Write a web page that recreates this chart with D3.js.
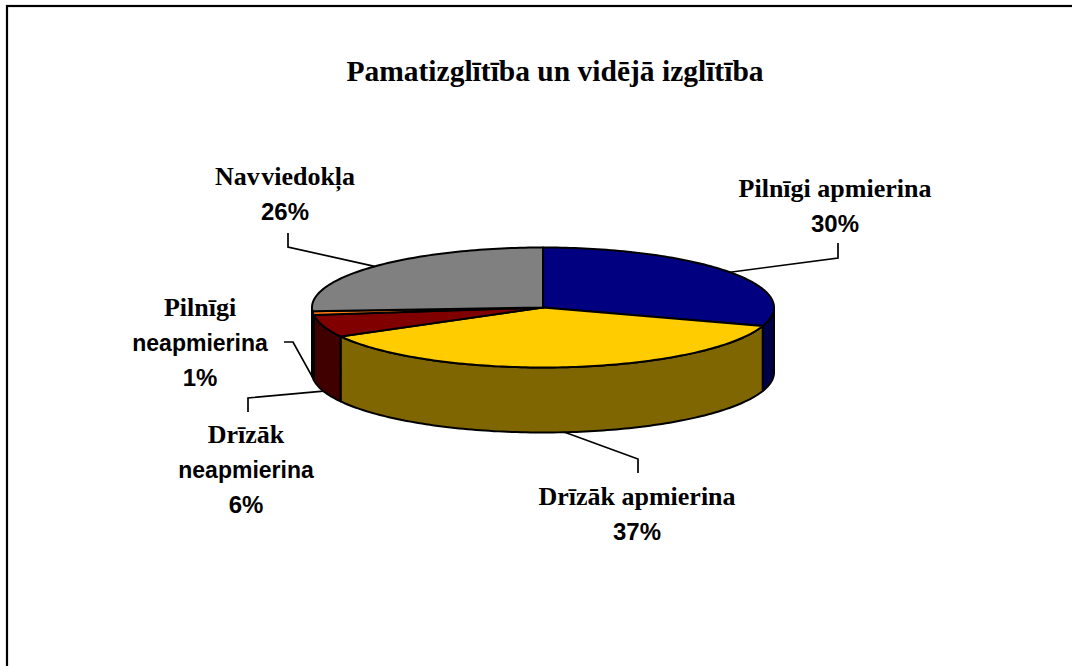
<!DOCTYPE html>
<html>
<head>
<meta charset="utf-8">
<script src="https://cdn.jsdelivr.net/npm/d3@7"></script>
<style>
  html, body { margin: 0; padding: 0; background: #fff; }
  svg { display: block; }
  .serif { font-family: "Liberation Serif", "Times New Roman", serif; font-weight: bold; }
  .sans { font-family: "Liberation Sans", Arial, sans-serif; font-weight: bold; }
</style>
</head>
<body>
<svg id="chart" width="1072" height="666"></svg>
<script>
// ---- data ----
const title = "Pamatizglītība un vidējā izglītība";
const categories = ["Pilnīgi apmierina", "Drīzāk apmierina", "Drīzāk neapmierina", "Pilnīgi neapmierina", "Nav viedokļa"];
const values = [30, 37, 6, 1, 26];
const percentLabels = ["30%", "37%", "6%", "1%", "26%"];
// label lines (name split as in the picture)
const labelNameLines = [["Pilnīgi apmierina"], ["Drīzāk apmierina"], ["Drīzāk", "neapmierina"], ["Pilnīgi", "neapmierina"], ["Nav viedokļa"]];

// ---- style / layout ----
const topColors  = ["#000080", "#FFCC00", "#800000", "#FF7A10", "#808080"];
const sideColors = ["#000048", "#806600", "#400000", "#803300", "#404040"];
const W = 1072, H = 666;
const cx = 543, cy = 307.5, rx = 231, ry = 60, depth = 65;
// label anchor: x center, y of first baseline; leader elbow points
const labelLayout = [
  { x: 835, y: 197, lead: [[838, 258], [838, 243]] },
  { x: 637, y: 505, lead: [[638, 459], [638, 473]] },
  { x: 246, y: 443, lead: [[248, 398], [248, 412]] },
  { x: 200, y: 316, lead: [[293, 342], [284, 342]] },
  { x: 285, y: 185, lead: [[288, 247], [288, 233]] }
];

const svg = d3.select("#chart");

// border
svg.append("rect").attr("x", 7).attr("y", 6).attr("width", W + 20).attr("height", H + 20)
  .attr("fill", "#fff").attr("stroke", "#000").attr("stroke-width", 2.2);

// title
svg.append("text").attr("class", "serif").attr("x", 555).attr("y", 81)
  .attr("text-anchor", "middle").attr("font-size", 29.5).text(title);

const pie = d3.pie().sort(null).startAngle(0).endAngle(2 * Math.PI).value(d => d);
const arcs = pie(values);

// scales projecting the unit circle to the tilted ellipse
const sx = d3.scaleLinear().domain([-1, 1]).range([cx - rx, cx + rx]);
const sy = d3.scaleLinear().domain([-1, 1]).range([cy - ry, cy + ry]);
const pt = (a, dz = 0) => [sx(Math.sin(a)), sy(-Math.cos(a)) + dz];

function arcPoints(a0, a1, dz) {
  const n = Math.max(2, Math.ceil((a1 - a0) / 0.02));
  return d3.range(n + 1).map(i => pt(a0 + (a1 - a0) * i / n, dz));
}

const line = d3.line();
const g = svg.append("g");

// side walls (front half only: angles between PI/2 and 3PI/2)
arcs.forEach((d, i) => {
  const a0 = Math.max(d.startAngle, Math.PI / 2);
  const a1 = Math.min(d.endAngle, 3 * Math.PI / 2);
  if (a1 <= a0) return;
  const topPts = arcPoints(a0, a1, 0);
  const botPts = arcPoints(a0, a1, depth).reverse();
  g.append("path").attr("d", line(topPts.concat(botPts)) + "Z")
    .attr("fill", sideColors[i]).attr("stroke", "#000").attr("stroke-width", 2)
    .attr("stroke-linejoin", "round");
});

// top faces
arcs.forEach((d, i) => {
  const pts = [[cx, cy]].concat(arcPoints(d.startAngle, d.endAngle, 0));
  g.append("path").attr("d", line(pts) + "Z")
    .attr("fill", topColors[i]).attr("stroke", "#000").attr("stroke-width", 2)
    .attr("stroke-linejoin", "round");
});

// leaders and labels
arcs.forEach((d, i) => {
  const mid = (d.startAngle + d.endAngle) / 2;
  const front = Math.cos(mid) < 0;
  const start = pt(mid, front ? depth : 0);
  const L = labelLayout[i];
  svg.append("path").attr("d", line([start].concat(L.lead)))
    .attr("fill", "none").attr("stroke", "#000").attr("stroke-width", 1.7);

  const t = svg.append("g");
  const lines = labelNameLines[i];
  lines.forEach((s, k) => {
    t.append("text").attr("class", k === 0 ? "serif" : "sans")
      .attr("x", L.x).attr("y", L.y + k * 35)
      .attr("text-anchor", "middle").attr("font-size", k === 0 ? 26 : 23)
      .attr("word-spacing", i === 4 ? -5 : 0)
      .text(s);
  });
  t.append("text").attr("class", "sans")
    .attr("x", L.x).attr("y", L.y + lines.length * 35)
    .attr("text-anchor", "middle").attr("font-size", 24)
    .text(percentLabels[i]);
});
</script>
</body>
</html>
